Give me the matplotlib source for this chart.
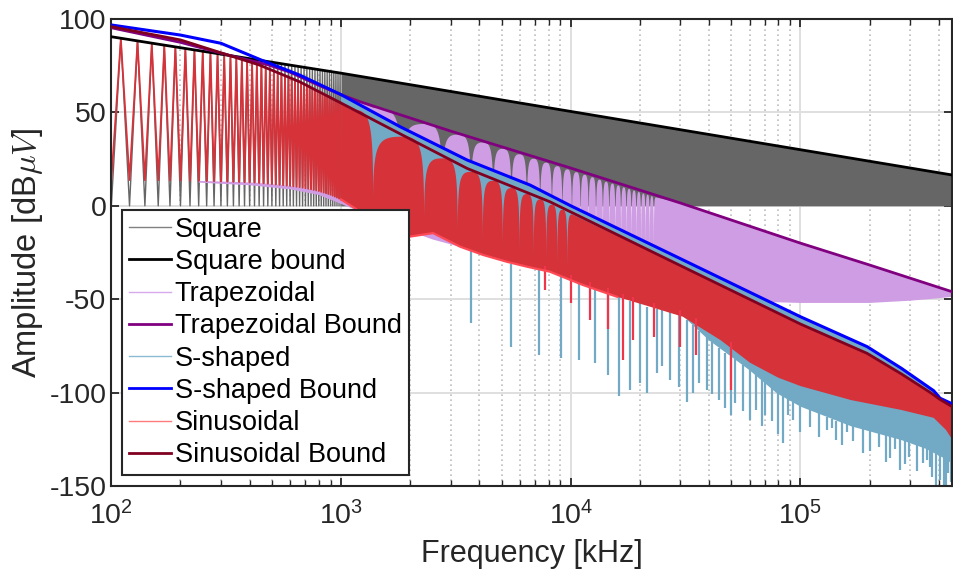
import numpy as np
import matplotlib
matplotlib.use('Agg')
import matplotlib.pyplot as plt
from matplotlib.lines import Line2D
from matplotlib.ticker import FixedLocator, FixedFormatter, LogLocator, NullFormatter

plt.rcParams['font.family'] = ['Liberation Sans', 'DejaVu Sans']
plt.rcParams['mathtext.fontset'] = 'cm'
plt.rcParams['axes.unicode_minus'] = False

# ---- values (frequency in kHz, amplitude in dBuV) ----

# low band: harmonic lines every 10 kHz, peaks on the odd ones (110, 130, ...)
harm_f = np.arange(100, 1001, 10)
sq_peak = [89.7, 88.3, 87.1, 86.0, 85.1, 84.2, 83.4, 82.7, 82.1, 81.5, 80.9, 80.4,
           79.9, 79.4, 79.0, 78.6, 78.1, 77.8, 77.4, 77.0, 76.7, 76.4, 76.1, 75.8,
           75.5, 75.2, 74.9, 74.6, 74.4, 74.1, 73.9, 73.7, 73.4, 73.2, 73.0, 72.8,
           72.6, 72.4, 72.2, 72.0, 71.8, 71.6, 71.4, 71.3, 71.1]
sin_peak = [89.2, 87.8, 86.6, 85.5, 84.6, 83.7, 82.9, 82.2, 81.6, 81.0, 80.4, 79.8,
            78.8, 77.8, 76.9, 76.1, 75.3, 74.4, 73.4, 72.5, 71.6, 70.8, 70.0, 69.2,
            68.4, 67.7, 66.9, 66.2, 65.5, 64.7, 63.9, 63.1, 62.4, 61.6, 60.9, 60.2,
            59.6, 58.9, 58.3, 57.6, 57.0, 56.4, 55.8, 55.3, 54.7]
sin_trough = [13.8, 13.8, 13.7, 13.7, 13.6, 13.5, 13.4, 13.3, 13.2, 13.1, 13.0, 12.9,
              12.8, 12.7, 12.6, 12.5, 12.4, 12.2, 12.0, 11.8, 11.6, 11.4, 11.2, 11.0,
              10.8, 10.6, 10.4, 10.2, 10.0, 9.7, 9.4, 9.1, 8.8, 8.5, 8.2, 7.9,
              7.5, 7.1, 6.7, 6.3, 5.9, 5.4, 4.9, 4.4, 3.9, 3.4]

# bounds
sq_bound_f = [100, 1000, 4.57e5]
sq_bound_db = [90.5, 71.0, 16.5]
trap_bound_f = [100, 200, 340, 480, 600, 800, 1000, 1210, 3000, 1e4, 3e4, 1e5, 2e5, 4.57e5]
trap_bound_db = [95.3, 87.5, 80.0, 75.5, 71.5, 64.5, 59.5, 55.7, 40.0, 20.2, 1.5, -20.0, -31.7, -46.0]
s_bound_f = [100, 200, 300, 450, 660, 1000, 1810, 3540, 6650, 1e4, 3e4, 1e5, 1.95e5,
             2.75e5, 3.8e5, 4.05e5, 4.57e5]
s_bound_db = [96.8, 91.4, 87.0, 78.0, 70.0, 59.5, 42.3, 24.5, 11.1, 0.0, -28.3, -59.4, -75.4,
              -87.0, -99.0, -103.0, -106.0]
sin_bound_f = [100, 200, 440, 660, 1000, 1810, 3540, 8100, 3e4, 1e5, 1.95e5, 2.75e5,
               3.7e5, 4.03e5, 4.57e5]
sin_bound_db = [95.9, 88.8, 75.4, 66.4, 55.0, 38.5, 20.0, 2.2, -32.0, -63.3, -79.0, -90.0,
                -100.2, -103.5, -107.5]

# lower edges of the dense part of each spectrum
lil_floor_f = [1000, 1500, 2500, 5000, 1e4, 2e4, 2.6e4, 3.5e4, 5e4, 7e4, 1e5, 2e5, 3e5, 4e5, 4.57e5]
lil_floor_db = [1.0, -8, -18, -28, -30, -28, -28, -34, -47, -51.5, -52, -52, -50.8, -49.5, -48.7]
lil_strip_f = [240, 400, 600, 800, 1000]
lil_strip_db = [12.4, 11.0, 8.8, 5.8, 1.0]
s_floor_f = [1000, 1400, 1995, 2515, 3300, 4150, 5280, 6450, 8120, 11300, 15900, 22100,
             30800, 40000, 60000, 79000, 1e5, 1.66e5, 2.75e5, 3.5e5, 4.2e5, 4.57e5]
s_floor_db = [5, -6, -14.5, -12.6, -19.9, -24.3, -28, -30.6, -33.3, -40.4, -46.7, -52,
              -59, -72, -88, -100.4, -107.5, -118, -125.4, -130, -135, -138]
red_floor_f = [1000, 1400, 1995, 2515, 3300, 4150, 5280, 6450, 8120, 11300, 15900, 22100,
               30800, 45000, 60300, 80000, 1e5, 1.66e5, 2.75e5, 3.8e5, 4.3e5, 4.57e5]
red_floor_db = [3.4, -8, -16.5, -14.6, -21.9, -26.3, -30, -32.6, -35.3, -42.4, -48.7, -54,
                -59.4, -72, -84, -92, -96.5, -104, -109.3, -113.5, -120, -125]

# lobe structure of the upper edges: lobe centres, lobe tops and the nulls between them
trap_lobe_f = [1380, 2300, 3220, 4140, 5060, 5980, 6900, 7820, 8740, 9660, 10580, 11500, 12420,
               13340, 14260, 15180, 16100, 17020, 17940, 18860, 19780, 20700, 21620, 22540, 23460]
trap_lobe_db = [52.5, 43.8, 38.1, 33.9, 30.5, 27.6, 25.2, 23.1, 21.2, 19.5, 18.0, 16.6, 15.3,
                14.0, 12.9, 11.9, 10.9, 9.9, 9.0, 8.2, 7.4, 6.6, 5.9, 5.2, 4.5]
trap_null_f = [1840, 2760, 3680, 4600, 5520, 6440, 7360, 8280, 9200, 10120, 11040, 11960,
               12880, 13800, 14720, 15640, 16560, 17480, 18400, 19320, 20240, 21160, 22080, 23000]
sin_lobe_f = [1100, 1840, 2760, 3680, 4600, 5520, 6440, 7360, 8280, 9200, 10120]
sin_lobe_db = [51.5, 37.0, 25.4, 18.2, 13.4, 9.5, 6.3, 3.4, 0.6, -2.1, -4.6]
sin_null_f = [1380, 2300, 3220, 4140, 5060, 5980, 6900, 7820, 8740, 9660]

# deep dips below the dense bands
s_spike_f = [3670, 5480, 7270, 9100, 10900, 12800, 14500, 16200,
             18100, 20000, 21500, 23800, 25000, 27000, 29700, 32000,
             34000, 36000, 39000, 41000, 44000, 47000, 50000, 52000,
             56000, 60000, 64000, 68000, 70000, 75000, 80000, 84000,
             88000, 93000, 100000, 110000, 120000, 130000, 137000, 143000,
             152000, 160000, 170000, 187000, 200000, 220000, 235000, 245000,
             258000, 270000, 285000, 297000, 320000, 340000, 355000, 365000,
             375000, 390000, 405000, 420000, 430000, 440000, 450000, 455000]
s_spike_lo = [-62.7, -75.4, -79.9, -81.5, -82.5, -84.2, -90.6, -102,
              -98.6, -95, -100, -89.7, -86, -93.3, -96.8, -104.9,
              -100, -95, -98.6, -101, -104, -108, -112, -105.6,
              -110, -114.7, -109.3, -118, -112, -115, -122, -127,
              -112, -114.7, -121, -118.2, -124, -120, -119, -125.4,
              -128, -121, -126, -132.5, -131, -129, -137, -135,
              -130, -141.4, -138, -134.3, -142, -137.7, -136, -140,
              -145, -149.5, -147, -150.4, -150, -143.2, -148, -146]
s_spike_hi = [-24, -31, -34, -38, -41, -44, -46, -49,
              -51, -52, -54, -55, -56, -57, -58, -61,
              -64, -67, -70, -73, -76, -79, -81, -82,
              -85, -87, -90, -93, -94, -97, -100, -102,
              -103, -105, -107, -109, -111, -113, -114, -115,
              -116, -117, -118, -119, -120, -121, -122, -123,
              -124, -125, -125.5, -126, -127.5, -129, -130, -130.5,
              -131, -132, -133, -134, -135, -136, -137, -137.5]
red_spike_f = [7700, 10000, 12100, 14500, 16900, 18700, 23000, 29900, 35000, 50000]
red_spike_lo = [-45, -52, -61, -66, -82.5, -71.8, -70, -75.4, -80, -98.6]
red_spike_hi = [-32, -37, -41, -44, -47, -49, -52, -56, -60, -73]

labels = ['Square', 'Square bound', 'Trapezoidal', 'Trapezoidal Bound',
          'S-shaped', 'S-shaped Bound', 'Sinusoidal', 'Sinusoidal Bound']

GRAY = '#666666'
LILAC = '#CF9DE3'
SBLUE = '#72A9C5'
RED = '#D5323A'
C_SQB = 'black'
C_TRB = '#800080'
C_SB = '#0000FF'
C_SINB = '#800020'


def bez(p0, p1, p2, p3, n=30):
    t = np.linspace(0, 1, n)[:, None]
    return ((1 - t) ** 3 * np.array(p0) + 3 * (1 - t) ** 2 * t * np.array(p1)
            + 3 * (1 - t) * t ** 2 * np.array(p2) + t ** 3 * np.array(p3))


def lobed_top(top_f, top_db, lobe_f, lobe_db, null_f, depth):
    # upper edge: bound outside the lobe range, lobes with sharp nulls inside it
    lu, nu = np.log10(lobe_f), np.log10(null_f)
    segs = []
    for k in range(len(nu)):
        c0, c1, n0 = lu[k], lu[k + 1], nu[k]
        t0, t1 = lobe_db[k], lobe_db[k + 1]
        d = min(t0, t1) - depth
        segs.append(bez((c0, t0), (n0 - 0.15 * (n0 - c0), t0), (n0, t0 - 3), (n0, d)))
        segs.append(bez((n0, d), (n0, t1 - 3), (n0 + 0.15 * (c1 - n0), t1), (c1, t1)))
    lob = np.vstack(segs)
    tf, td = np.asarray(top_f, float), np.asarray(top_db, float)
    before, after = tf < lobe_f[0], tf > lobe_f[-1]
    x = np.r_[tf[before], 10 ** lob[:, 0], tf[after]]
    y = np.r_[td[before], lob[:, 1], td[after]]
    keep = x >= 1000
    return x[keep], y[keep]


def dense(ax, top_f, top_db, bot_f, bot_db, color, z):
    top_f, top_db = np.asarray(top_f, float), np.asarray(top_db, float)
    m = top_f >= 1000
    xs = np.r_[top_f[m], np.asarray(bot_f, float)[::-1]]
    ys = np.r_[top_db[m], np.asarray(bot_db, float)[::-1]]
    ax.fill(xs, ys, color=color, lw=0, zorder=z)


fig = plt.figure(figsize=(9.54, 5.74), dpi=100)
ax = fig.add_axes([0.1167, 0.1533, 0.8813, 0.8136])
ax.set_xscale('log')

# square
sq_line = np.zeros(len(harm_f))
sq_line[1::2] = sq_peak
ax.plot(harm_f, sq_line, color=GRAY, lw=1.0, zorder=2)
ax.fill_between(sq_bound_f, 0, sq_bound_db, where=np.array(sq_bound_f) >= 1000,
                color=GRAY, lw=0, zorder=2)

# trapezoidal
tx, ty = lobed_top(trap_bound_f, trap_bound_db, trap_lobe_f, trap_lobe_db, trap_null_f, 40)
dense(ax, tx, ty, lil_floor_f, lil_floor_db, LILAC, 2.1)
ev_f = harm_f[0::2]
ms = ev_f >= 240
ax.fill(np.r_[ev_f[ms], lil_strip_f[::-1]], np.r_[np.array(sin_trough)[ms], lil_strip_db[::-1]],
        color=LILAC, lw=0, zorder=2.1)

# s-shaped
dense(ax, s_bound_f, s_bound_db, s_floor_f, s_floor_db, SBLUE, 2.3)
ax.vlines(s_spike_f, s_spike_lo, s_spike_hi, color=SBLUE, lw=1.6, zorder=2.3)

# sinusoidal
sin_line = np.zeros(len(harm_f))
sin_line[0::2] = sin_trough
sin_line[1::2] = sin_peak
ax.plot(harm_f, sin_line, color=RED, lw=1.3, zorder=2.4)
rx, ry = lobed_top(sin_bound_f, sin_bound_db, sin_lobe_f, sin_lobe_db, sin_null_f, 35)
dense(ax, rx, ry, red_floor_f, red_floor_db, RED, 2.4)
ax.vlines(red_spike_f, red_spike_lo, red_spike_hi, color='#F0344A', lw=1.6, zorder=2.45)
rf = np.array(red_floor_f)
ax.plot(rf[rf <= 16000], np.array(red_floor_db)[rf <= 16000], color='#FF4A55', lw=1.6, zorder=2.45)

# bounds
ax.plot(sq_bound_f, sq_bound_db, color=C_SQB, lw=2.0, zorder=3)
ax.plot(trap_bound_f, trap_bound_db, color=C_TRB, lw=2.0, zorder=3.1)
ax.plot(s_bound_f, s_bound_db, color=C_SB, lw=2.2, zorder=3.2)
ax.plot(sin_bound_f, sin_bound_db, color=C_SINB, lw=2.0, zorder=3.3)

ax.set_xlim(100, 4.57e5)
ax.set_ylim(-150, 100)
ax.set_yticks([-150, -100, -50, 0, 50, 100])
ax.xaxis.set_major_locator(FixedLocator([1e2, 1e3, 1e4, 1e5]))
ax.xaxis.set_major_formatter(FixedFormatter([r'$\mathregular{10^{%d}}$' % k for k in (2, 3, 4, 5)]))
ax.xaxis.set_minor_locator(LogLocator(base=10, subs=np.arange(2, 10), numticks=20))
ax.xaxis.set_minor_formatter(NullFormatter())

ax.set_axisbelow(True)
ax.grid(True, which='major', color='#DFDFDF', lw=1.4, ls='-')
ax.grid(True, which='minor', axis='x', color='#BDBDBD', lw=1.2, ls=(0, (1, 2)))
ax.tick_params(which='both', direction='in', top=True, right=True, labelsize=20.5,
               colors='#262626')
ax.tick_params(axis='x', which='major', pad=11)
ax.tick_params(which='major', length=6, width=1.3)
ax.tick_params(which='minor', length=4, width=1.0)
for s in ax.spines.values():
    s.set_linewidth(1.5)
    s.set_color('#262626')

ax.set_xlabel('Frequency [kHz]', fontsize=22, color='#262626', labelpad=6)
ax.set_ylabel(r'Amplitude [dB$\mu V$]', fontsize=23.5, color='#262626', labelpad=3)

handles = [Line2D([], [], color='#808080', lw=1.0),
           Line2D([], [], color=C_SQB, lw=2.0),
           Line2D([], [], color='#D8AAEC', lw=1.0),
           Line2D([], [], color=C_TRB, lw=2.0),
           Line2D([], [], color='#8BBBD3', lw=1.0),
           Line2D([], [], color=C_SB, lw=2.0),
           Line2D([], [], color='#FF7B7B', lw=1.0),
           Line2D([], [], color=C_SINB, lw=2.0)]
leg = ax.legend(handles, labels, loc='lower left', bbox_to_anchor=(0.0127, 0.0236),
                borderaxespad=0, fontsize=19.5, handlelength=1.55, handletextpad=0.15,
                labelspacing=0.23, borderpad=0.25, fancybox=False, framealpha=1,
                edgecolor='#262626')
leg.get_frame().set_linewidth(1.5)
leg.set_zorder(10)

fig.savefig('out.png', dpi=100)
